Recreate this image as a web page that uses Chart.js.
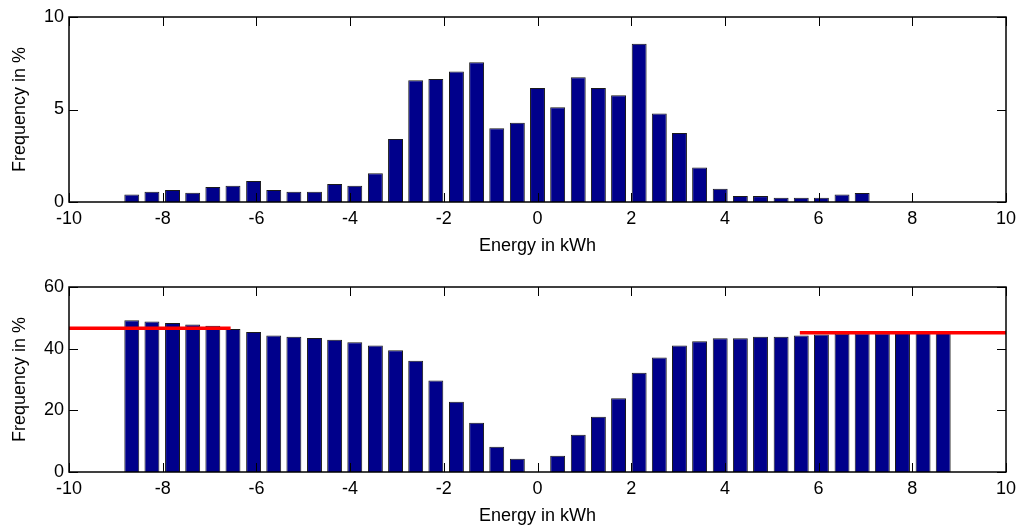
<!DOCTYPE html>
<html>
<head>
<meta charset="utf-8">
<script src="https://cdn.jsdelivr.net/npm/chart.js@4.4.1/dist/chart.umd.min.js"></script>
<style>
  html, body { margin: 0; padding: 0; background: #fff; }
  .panel { position: absolute; left: 0; width: 1019px; height: 257px; }
  #top-panel { top: 0; }
  #bottom-panel { top: 270px; }
</style>
</head>
<body>
<div class="panel" id="top-panel"><canvas id="histChart"></canvas></div>
<div class="panel" id="bottom-panel"><canvas id="cumChart"></canvas></div>
<script>
// bin centres in kWh (step ~0.433)
const binCenters = [
  -8.66, -8.23, -7.79, -7.36, -6.93, -6.50, -6.06, -5.63, -5.20, -4.76,
  -4.33, -3.90, -3.46, -3.03, -2.60, -2.17, -1.73, -1.30, -0.87, -0.43,
  0.00, 0.43, 0.87, 1.30, 1.73, 2.17, 2.60, 3.03, 3.46, 3.90,
  4.33, 4.76, 5.20, 5.63, 6.06, 6.50, 6.93, 7.36, 7.79, 8.23, 8.66
];

// upper panel: frequency per bin in %
const histValues = [
  0.40, 0.56, 0.65, 0.50, 0.81, 0.88, 1.14, 0.65, 0.56, 0.56,
  0.97, 0.88, 1.55, 3.41, 6.58, 6.65, 7.06, 7.55, 3.98, 4.29,
  6.16, 5.12, 6.74, 6.16, 5.77, 8.56, 4.79, 3.73, 1.86, 0.72,
  0.32, 0.32, 0.23, 0.23, 0.23, 0.40, 0.49, 0, 0, 0, 0
];

// lower panel: frequency per bin in %
const cumValues = [
  49.2, 48.8, 48.3, 47.8, 47.4, 46.4, 45.4, 44.3, 43.9, 43.5,
  42.9, 42.1, 41.0, 39.5, 36.1, 29.7, 22.8, 16.0, 8.2, 4.3,
  0, 5.3, 12.1, 17.9, 23.9, 32.2, 37.1, 41.0, 42.4, 43.4,
  43.4, 43.9, 43.9, 44.3, 44.6, 44.8, 45.0, 45.0, 45.1, 45.2, 45.2
];

// red reference levels in the lower panel
const leftLevelX = [-10, -6.55];
const leftLevelY = [46.6, 46.6];
const rightLevelX = [5.6, 10];
const rightLevelY = [45.2, 45.2];

const xTicks = [-10, -8, -6, -4, -2, 0, 2, 4, 6, 8, 10];
const histTicks = [0, 5, 10];
const cumTicks = [0, 20, 40, 60];

const FONT = "'Liberation Sans', Arial, sans-serif";
const toPoints = (xs, ys) => xs.map((x, i) => ({ x: x, y: ys[i] }));

// matlab style box with inward ticks on all four sides
const matlabBox = {
  id: 'matlabBox',
  afterDatasetsDraw(chart) {
    const { ctx, chartArea: a, scales } = chart;
    const len = 9;
    ctx.save();
    ctx.strokeStyle = '#000';
    ctx.lineWidth = 1;
    scales.x.ticks.forEach(t => {
      const px = Math.round(scales.x.getPixelForValue(t.value)) + 0.5;
      ctx.beginPath();
      ctx.moveTo(px, a.bottom); ctx.lineTo(px, a.bottom - len);
      ctx.moveTo(px, a.top); ctx.lineTo(px, a.top + len);
      ctx.stroke();
    });
    scales.y.ticks.forEach(t => {
      const py = Math.round(scales.y.getPixelForValue(t.value)) + 0.5;
      ctx.beginPath();
      ctx.moveTo(a.left, py); ctx.lineTo(a.left + len, py);
      ctx.moveTo(a.right, py); ctx.lineTo(a.right - len, py);
      ctx.stroke();
    });
    ctx.lineWidth = 1.5;
    ctx.strokeRect(a.left, a.top, a.right - a.left, a.bottom - a.top);
    ctx.restore();
  }
};

function makePanel(canvasId, values, yTicks, extraSets) {
  const yMax = yTicks[yTicks.length - 1];
  const datasets = [{
    type: 'bar',
    data: toPoints(binCenters, values),
    backgroundColor: '#00008B',
    borderColor: '#1a1a1a',
    borderWidth: 1,
    barPercentage: 0.74,
    categoryPercentage: 1.0,
    order: 2
  }].concat(extraSets);

  return new Chart(document.getElementById(canvasId), {
    type: 'bar',
    data: { datasets: datasets },
    options: {
      responsive: true,
      maintainAspectRatio: false,
      animation: false,
      layout: { padding: { top: 17, right: 13, left: 0, bottom: 0 } },
      plugins: { legend: { display: false }, tooltip: { enabled: false } },
      scales: {
        x: {
          type: 'linear',
          offset: false,
          min: -10, max: 10,
          afterBuildTicks: s => { s.ticks = xTicks.map(v => ({ value: v })); },
          afterFit: s => { s.height = 55; s.paddingLeft = 0; s.paddingRight = 0; },
          grid: { display: false, drawTicks: false },
          border: { display: false },
          ticks: { color: '#000', padding: 6, font: { family: FONT, size: 18 }, maxRotation: 0 },
          title: { display: true, text: 'Energy in kWh', color: '#000', padding: { top: 1, bottom: 0 }, font: { family: FONT, size: 18 } }
        },
        y: {
          min: 0, max: yMax,
          afterBuildTicks: s => { s.ticks = yTicks.map(v => ({ value: v })); },
          afterFit: s => { s.width = 69; },
          grid: { display: false, drawTicks: false },
          border: { display: false },
          ticks: { color: '#000', padding: 5, font: { family: FONT, size: 18 } },
          title: { display: true, text: 'Frequency in %', color: '#000', padding: { top: 9, bottom: 0 }, font: { family: FONT, size: 18 } }
        }
      }
    },
    plugins: [matlabBox]
  });
}

const redLine = (xs, ys) => ({
  type: 'line',
  data: toPoints(xs, ys),
  borderColor: '#FF0000',
  borderWidth: 3.5,
  pointRadius: 0,
  fill: false,
  order: 1
});

makePanel('histChart', histValues, histTicks, []);
makePanel('cumChart', cumValues, cumTicks, [
  redLine(leftLevelX, leftLevelY),
  redLine(rightLevelX, rightLevelY)
]);
</script>
</body>
</html>
